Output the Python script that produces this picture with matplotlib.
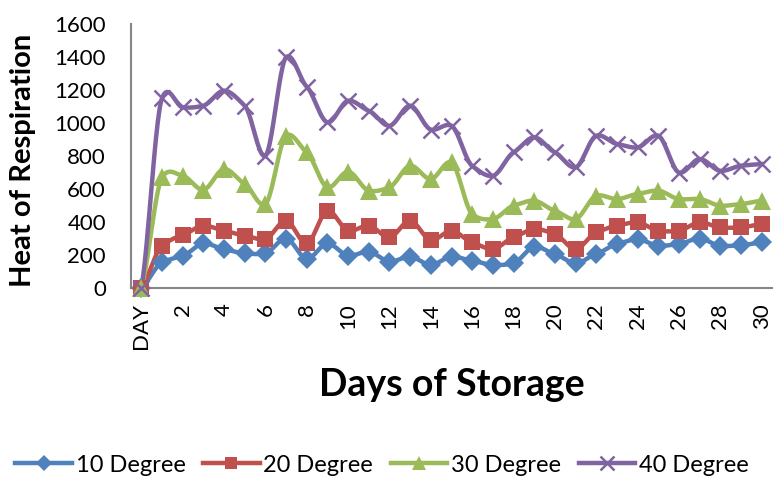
import numpy as np
import matplotlib.pyplot as plt
from matplotlib.lines import Line2D

days = ["DAY"] + [str(d) for d in range(1, 31)]

deg10 = [0, 155, 195, 270, 235, 210, 210, 300, 177, 270, 196, 220, 160, 190, 140,
         190, 165, 140, 150, 250, 205, 150, 206, 267, 295, 256, 267, 300, 255, 260, 276]
deg20 = [0, 256, 321, 378, 347, 317, 297, 408, 270, 468, 347, 378, 307, 408, 290,
         347, 276, 236, 307, 358, 327, 236, 337, 378, 398, 347, 347, 398, 367, 367, 388]
deg30 = [0, 670, 680, 595, 721, 630, 509, 923, 822, 610, 705, 590, 610, 741, 660,
         761, 448, 418, 499, 529, 468, 418, 559, 539, 570, 590, 539, 539, 499, 509, 529]
deg40 = [0, 1150, 1095, 1105, 1196, 1105, 802, 1398, 1220, 1004, 1135, 1074, 983, 1105, 960,
         983, 740, 680, 822, 913, 822, 731, 923, 873, 852, 923, 700, 782, 710, 741, 751]

series = [
    ("10 Degree", deg10, "#4F81BD", "D", 10),
    ("20 Degree", deg20, "#C0504D", "s", 11),
    ("30 Degree", deg30, "#9BBB59", "^", 12.5),
    ("40 Degree", deg40, "#8064A2", "x", 12),
]


def smooth(x, y, steps=24, tension=0.6):
    # cubic Hermite curve through every point, tangents damped a bit
    x = np.asarray(x, float)
    y = np.asarray(y, float)
    py = np.concatenate([[2 * y[0] - y[1]], y, [2 * y[-1] - y[-2]]])
    t = np.linspace(0, 1, steps, endpoint=False)
    h00 = 2 * t**3 - 3 * t**2 + 1
    h10 = t**3 - 2 * t**2 + t
    h01 = -2 * t**3 + 3 * t**2
    h11 = t**3 - t**2
    xs, ys = [], []
    for i in range(1, len(py) - 2):
        p0, p1, p2, p3 = py[i - 1], py[i], py[i + 1], py[i + 2]
        m1 = tension * (p2 - p0) / 2
        m2 = tension * (p3 - p1) / 2
        ys.extend(h00 * p1 + h10 * m1 + h01 * p2 + h11 * m2)
        xs.extend(x[i - 1] + t * (x[i] - x[i - 1]))
    xs.append(x[-1])
    ys.append(y[-1])
    return np.array(xs), np.array(ys)


plt.rcParams['font.family'] = ['Lato', 'DejaVu Sans']

fig = plt.figure(figsize=(7.74, 4.79), dpi=100)
ax = fig.add_axes([131 / 774, 1 - 288 / 479, 641 / 774, 264 / 479])

x = np.arange(len(days))
handles = []
for name, vals, color, marker, ms in series:
    sx, sy = smooth(x, vals)
    ax.plot(sx, sy, color=color, lw=3.2, zorder=2, clip_on=False)
    mew = 1.8 if marker == "x" else 0
    ax.plot(x, vals, linestyle="none", marker=marker, ms=ms, color=color,
            mec=color, mew=mew, zorder=3, clip_on=False)
    handles.append(Line2D([], [], color=color, lw=3.2, marker=marker, ms=ms * 0.85,
                          mec=color, mew=mew, label=name))

ax.set_xlim(-0.5, len(days) - 0.5)
ax.set_ylim(0, 1600)
ax.set_yticks(range(0, 1601, 200))
ax.set_xticks(x[::2])
ax.set_xticklabels(days[::2], rotation=90)
ax.tick_params(axis="y", labelsize=16, length=0, pad=18)
ax.tick_params(axis="x", labelsize=16, length=0, pad=11)

for side in ("top", "right"):
    ax.spines[side].set_visible(False)
for side in ("left", "bottom"):
    ax.spines[side].set_color("#868686")
    ax.spines[side].set_linewidth(1.5)

fig.text(23 / 774, 1 - 160 / 479, "Heat of Respiration", rotation=90,
         ha="center", va="center", fontsize=21, fontweight="bold")
fig.text(452 / 774, 1 - 385 / 479, "Days of Storage", ha="center", va="center",
         fontsize=27, fontweight="bold")

fig.legend(handles=handles, loc="center", bbox_to_anchor=(382 / 774, 1 - 465 / 479),
           ncol=4, frameon=False, fontsize=17, handlelength=2.4,
           columnspacing=0.75, handletextpad=0.15, borderaxespad=0, borderpad=0)

fig.savefig("out.png", dpi=100)
